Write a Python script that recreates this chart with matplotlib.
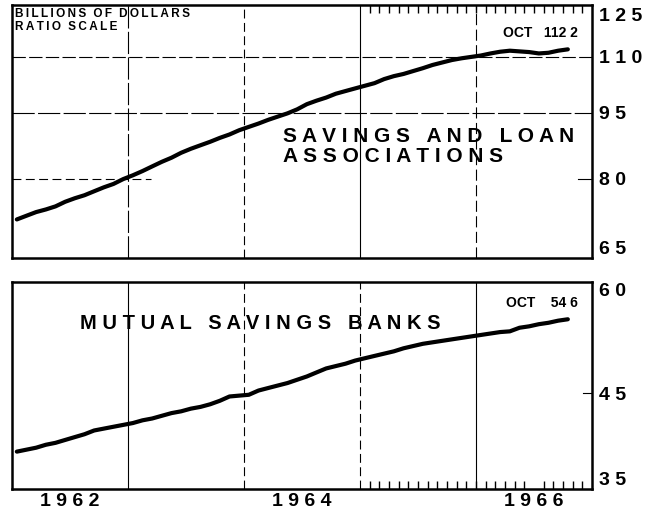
import numpy as np
import matplotlib.pyplot as plt
from matplotlib.ticker import NullLocator

plt.rcParams['font.family'] = ['Liberation Sans', 'DejaVu Sans']

# -----------------------------
# Data: monthly, Jan 1962 - Oct 1966 (billions of dollars)
# -----------------------------
n_months = 58
savings_loan = [
    71.9, 72.6, 73.3, 73.8, 74.4, 75.3, 76.0, 76.6, 77.4, 78.2, 78.9, 79.9,
    80.7, 81.6, 82.6, 83.6, 84.5, 85.6, 86.5, 87.3, 88.1, 89.0, 89.8, 90.8,
    91.6, 92.4, 93.3, 94.1, 94.9, 95.9, 97.2, 98.1, 98.9, 99.9, 100.6, 101.3,
    102.0, 102.7, 103.8, 104.6, 105.2, 106.0, 106.8, 107.7, 108.4, 109.1, 109.6, 110.0,
    110.4, 111.0, 111.5, 111.8, 111.6, 111.4, 111.0, 111.2, 111.8, 112.2,
]
mutual_savings = [
    38.6, 38.8, 39.0, 39.3, 39.5, 39.8, 40.1, 40.4, 40.8, 41.0, 41.2, 41.4,
    41.6, 41.9, 42.1, 42.4, 42.7, 42.9, 43.2, 43.4, 43.7, 44.1, 44.6, 44.7,
    44.8, 45.3, 45.6, 45.9, 46.2, 46.6, 47.0, 47.5, 48.0, 48.3, 48.6, 49.0,
    49.3, 49.6, 49.9, 50.2, 50.6, 50.9, 51.2, 51.4, 51.6, 51.8, 52.0, 52.2,
    52.4, 52.6, 52.8, 52.9, 53.4, 53.6, 53.9, 54.1, 54.4, 54.6,
]
t = 1962 + (np.arange(n_months) + 0.5) / 12

top_ticks = [65, 80, 95, 110, 125]
bot_ticks = [35, 45, 60]
year_labels = ['1962', '1964', '1966']
year_pos = [1962.5, 1964.5, 1966.5]


def spaced(s, gap=' '):
    # letter-spaced caps, like the old lettering
    return (gap * 3).join(gap.join(w) for w in s.split())


fig = plt.figure(figsize=(6.57, 5.12), dpi=100)
ax1 = fig.add_axes([12/657, 1 - 258/512, 580/657, 253/512])
ax2 = fig.add_axes([12/657, 1 - 489/512, 580/657, 207/512])

minor = np.arange(1965, 1967, 1/12)[1:]

for ax, data, ticks, lim in [(ax1, savings_loan, top_ticks, (65.3, 126)),
                             (ax2, mutual_savings, bot_ticks, (35, 60.2))]:
    ax.plot(t, data, color='black', lw=3, solid_capstyle='round', zorder=3)
    ax.set_yscale('log')
    ax.set_ylim(*lim)
    ax.set_xlim(1962, 1967)
    ax.yaxis.tick_right()
    ax.set_yticks(ticks)
    ax.set_yticklabels([' '.join(str(v)) for v in ticks], fontsize=14,
                       fontweight='bold')
    ax.yaxis.set_minor_locator(NullLocator())
    ax.tick_params(axis='y', length=0, pad=5)
    labels = ax.get_yticklabels()
    labels[0].set_va('bottom')
    labels[-1].set_va('top')
    for s in ax.spines.values():
        s.set_linewidth(1.8)

# top panel x-axis: no labels, monthly ticks along top edge
ax1.set_xticks([])
ax1.set_xticks(minor, minor=True)
ax1.tick_params(axis='x', which='minor', direction='in', top=True, bottom=False,
                length=6, width=1)

# bottom panel x-axis: year labels, monthly ticks along bottom edge
ax2.set_xticks(year_pos)
ax2.set_xticklabels([' '.join(y) for y in year_labels], fontsize=14,
                    fontweight='bold')
ax2.tick_params(axis='x', which='major', length=0, pad=3)
ax2.set_xticks(minor, minor=True)
ax2.tick_params(axis='x', which='minor', direction='in', length=6, width=1)

# grid lines
ax1.axhline(110, color='black', lw=0.8, dashes=(12, 3))
ax1.axhline(95, color='black', lw=0.8, dashes=(20, 3))
ax1.axhline(80, xmax=0.24, color='black', lw=0.8, dashes=(8, 4))
ax1.axhline(80, xmin=0.975, color='black', lw=0.8)
ax1.axvline(1963, color='black', lw=0.8, dashes=(20, 3))
ax1.axvline(1964, color='black', lw=0.8, dashes=(8, 4))
ax1.axvline(1965, color='black', lw=0.8)
ax1.axvline(1966, color='black', lw=0.8, dashes=(10, 4))
ax2.axhline(45, xmin=0.985, color='black', lw=0.8)
ax2.axvline(1963, color='black', lw=0.8)
ax2.axvline(1964, color='black', lw=0.8, dashes=(8, 4))
ax2.axvline(1965, color='black', lw=0.8, dashes=(8, 4))
ax2.axvline(1966, color='black', lw=0.8)

# annotations
ax1.text(0.006, 0.99, spaced('BILLIONS OF DOLLARS', '\u2009') + '\n'
         + spaced('RATIO SCALE', '\u2009'), transform=ax1.transAxes,
         ha='left', va='top', fontsize=8.5, fontweight='bold', linespacing=1.2)
ax1.text(0.467, 0.44, spaced('SAVINGS AND LOAN') + '\n' + spaced('ASSOCIATIONS'),
         transform=ax1.transAxes, ha='left', va='center', fontsize=15,
         fontweight='bold', linespacing=1.1)
ax1.text(0.976, 0.89, 'OCT   112 2', transform=ax1.transAxes, ha='right',
         va='center', fontsize=10, fontweight='bold')
ax2.text(0.117, 0.80, spaced('MUTUAL SAVINGS BANKS'), transform=ax2.transAxes,
         ha='left', va='center', fontsize=14.5, fontweight='bold')
ax2.text(0.976, 0.90, 'OCT    54 6', transform=ax2.transAxes, ha='right',
         va='center', fontsize=10, fontweight='bold')

plt.savefig('out.png', dpi=100)
